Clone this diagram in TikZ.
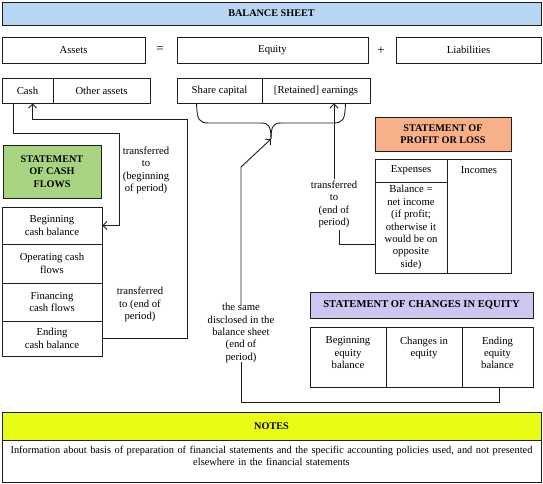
\documentclass[tikz,border=0pt]{standalone}
\usepackage{fontspec}
\setmainfont{Liberation Serif}
\usetikzlibrary{arrows.meta,calc}
\definecolor{bsblue}{RGB}{184,214,244}
\definecolor{cfgreen}{RGB}{168,212,130}
\definecolor{plorange}{RGB}{248,176,138}
\definecolor{sepurple}{RGB}{204,198,240}
\definecolor{ntyellow}{RGB}{232,252,20}
\definecolor{ln}{RGB}{30,30,30}
\begin{document}
\begin{tikzpicture}[x=1pt,y=-1pt,
  every node/.style={font=\fontsize{10.7}{12.4}\selectfont, text=black},
  box/.style={draw=ln, line width=0.9pt, rectangle, inner sep=0pt, align=center},
  lbl/.style={align=center, inner sep=2pt},
  conn/.style={draw=ln, line width=0.9pt},
  tip/.style={-{Straight Barb[length=4pt,width=8pt]}},
  hd/.style={font=\fontsize{10.2}{12.4}\selectfont\bfseries},
  sym/.style={font=\fontsize{13}{13}\selectfont, inner sep=0pt}
]
\useasboundingbox (0,0) rectangle (543,484);

% Balance sheet
\node[box, fill=bsblue, minimum width=539, minimum height=23, hd] (title) at (271.5,13.5) {BALANCE SHEET};
\node[box, minimum width=143, minimum height=26] (assets) at (73.5,50) {Assets};
\node[sym] (eqs) at (160,50) {=};
\node[box, minimum width=191, minimum height=26] (equity) at (272.5,50) {Equity};
\node[sym] (pls) at (381,51) {+};
\node[box, minimum width=145, minimum height=26] (liab) at (468.5,50) {Liabilities};

\node[box, minimum width=51, minimum height=25] (cash) at (27.5,90.5) {Cash};
\node[box, minimum width=97, minimum height=25] (other) at (101.5,90.5) {Other assets};
\node[box, minimum width=85, minimum height=25] (share) at (219.5,90.5) {Share capital};
\node[box, minimum width=108, minimum height=25] (retained) at (316,90.5) {[Retained] earnings};

% Statement of cash flows
\node[box, fill=cfgreen, minimum width=98, minimum height=53, hd] (scf) at (52,171.5) {STATEMENT\\OF CASH\\FLOWS};
\node[box, minimum width=100, minimum height=37] (begin) at (52,225.5) {Beginning\\cash balance};
\node[box, minimum width=100, minimum height=39] (oper) at (52,263.5) {Operating cash\\flows};
\node[box, minimum width=100, minimum height=38] (fin) at (52,302) {Financing\\cash flows};
\node[box, minimum width=100, minimum height=35] (endc) at (52,338.5) {Ending\\cash balance};

\node[lbl] (trl1) at (146,170.5) {transferred\\to\\(beginning\\of period)};
\node[lbl] (trl3) at (140,304.5) {transferred\\to (end of\\period)};

\coordinate (c1) at (119,133);
\coordinate (c2) at (187,119);
\draw[conn,tip] ([xshift=12pt]cash.south west) |- (c1) |- (begin.east);
\draw[conn,tip] (endc.east) -| (c2) -| ([xshift=31pt]cash.south west);

% brace under equity parts
\coordinate (bl) at ([xshift=20pt]share.south west);
\coordinate (br) at ([xshift=-25pt]retained.south east);
\coordinate (btip) at (271,139);
\draw[conn] (bl) .. controls (197,120) and (199,123) .. (209,123) -- (261,123) .. controls (269,123) and (271,127) .. (btip);
\draw[conn] (br) .. controls (345,120) and (343,123) .. (333,123) -- (281,123) .. controls (273,123) and (271,127) .. (btip);

% Statement of profit or loss
\node[box, fill=plorange, minimum width=136, minimum height=34, hd] (pl) at (443,134) {STATEMENT OF\\PROFIT OR LOSS};
\node[box, minimum width=72, minimum height=23] (exp) at (411,170.5) {Expenses};
\node[box, minimum width=72, minimum height=91] (bal) at (411,227.5) {Balance =\\net income\\(if profit;\\otherwise it\\would be on\\opposite\\side)};
\node[box, minimum width=64, minimum height=114] (inc) at (479,216) {};
\node[lbl] (inct) at (479,170.5) {Incomes};

\node[lbl] (trl2) at (334,204.5) {transferred\\to\\(end of\\period)};
\draw[conn,tip] (trl2.north) -- (trl2.north |- retained.south);
\draw[conn] (bal.west |- 0,244) -| ([xshift=5pt]trl2.south);

% Statement of changes in equity
\node[box, fill=sepurple, minimum width=223, minimum height=26, font=\fontsize{10.6}{12.4}\selectfont\bfseries] (sce) at (421.5,305) {STATEMENT OF CHANGES IN EQUITY};
\node[box, minimum width=76, minimum height=60] (beq) at (348,357) {};
\node[box, minimum width=76, minimum height=60] (chg) at (424,357) {};
\node[box, minimum width=71, minimum height=60] (endeq) at (497.5,357) {};
\node[lbl, anchor=north] (beqt) at ([yshift=-8pt]beq.north) {Beginning\\equity\\balance};
\node[lbl, anchor=north] (chgt) at ([yshift=-8pt]chg.north) {Changes in\\equity};
\node[lbl, anchor=north] (endeqt) at ([yshift=-8pt]endeq.north) {Ending\\equity\\balance};

\node[lbl] (same) at (241,333) {the same\\disclosed in the\\balance sheet\\(end of\\period)};
\coordinate (c3) at (241,167);
\coordinate (c4) at (241,402);
\draw[conn,tip] ([yshift=-5pt]same.north) -- (c3) -- (btip);
\draw[conn] ([xshift=2pt]endeq.south) |- (c4) -- ([yshift=3pt]same.south);

% Notes
\node[box, fill=ntyellow, minimum width=539, minimum height=28, hd] (notes) at (271.5,426) {NOTES};
\node[box, minimum width=539, minimum height=42] (notesb) at (271.5,461) {};
\node[lbl, anchor=north, text width=532, font=\fontsize{10.4}{12.4}\selectfont] (notest) at ([yshift=-4pt]notesb.north) {Information about basis of preparation of financial statements and the specific accounting policies used, and not presented\\elsewhere in the financial statements};
\end{tikzpicture}
\end{document}
